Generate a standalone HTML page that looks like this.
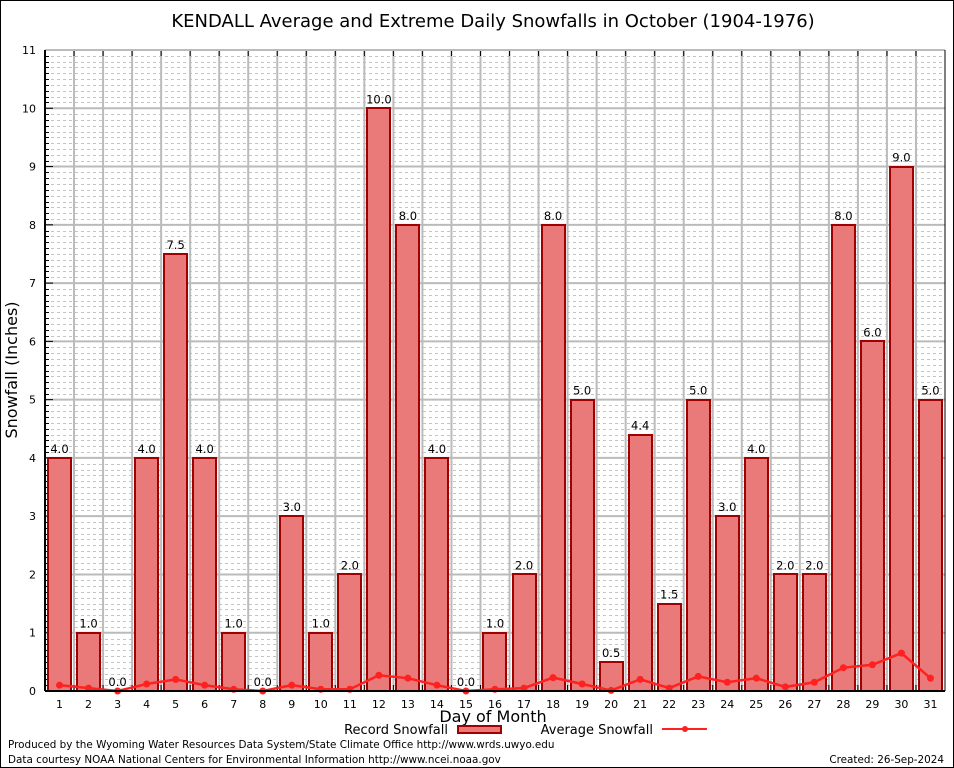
<!DOCTYPE html>
<html><head><meta charset="utf-8"><style>
html,body{margin:0;padding:0;background:#fff;width:954px;height:768px;overflow:hidden}
text{font-family:"DejaVu Sans","Liberation Sans",sans-serif}
</style></head><body>
<svg id="s" width="954" height="768" xmlns="http://www.w3.org/2000/svg">
<rect x="0.5" y="0.5" width="953" height="767" fill="#fff" stroke="#000"/>
<text x="493" y="27" font-size="18" text-anchor="middle" fill="#000">KENDALL Average and Extreme Daily Snowfalls in October (1904-1976)</text>
<g id="g"></g>
<text x="493" y="722" font-size="16" text-anchor="middle">Day of Month</text>
<text transform="translate(17,370) rotate(-90)" font-size="16" text-anchor="middle">Snowfall (Inches)</text>
<text x="448" y="734" font-size="13" text-anchor="end">Record Snowfall</text>
<rect x="458" y="726" width="43" height="7" fill="#ea7a7a" stroke="#a00000" stroke-width="2"/>
<text x="653" y="734" font-size="13" text-anchor="end">Average Snowfall</text>
<line x1="662" y1="729" x2="707" y2="729" stroke="#ff2020" stroke-width="2"/>
<circle cx="685" cy="729" r="3" fill="#ff2020"/>
<text x="8" y="748" font-size="10.4">Produced by the Wyoming Water Resources Data System/State Climate Office http://www.wrds.uwyo.edu</text>
<text x="8" y="763" font-size="10.4">Data courtesy NOAA National Centers for Environmental Information http://www.ncei.noaa.gov</text>
<text x="944" y="763" font-size="10.4" text-anchor="end">Created: 26-Sep-2024</text>
</svg>
<script>
var g=document.getElementById('g'),h='';
var L=45,R=945,T=50,B=691,u=(B-T)/11,w=(R-L)/31;
function Y(v){return B-v*u}
for(var i=0;i<110;i++){if(i%10==0)continue;var y=Math.round(Y(i/10))+0.5;h+='<line x1="'+L+'" x2="'+R+'" y1="'+y+'" y2="'+y+'" stroke="#c4c4c4" stroke-dasharray="3,3"/>';h+='<line x1="'+L+'" x2="'+(L+4)+'" y1="'+y+'" y2="'+y+'" stroke="#000"/>';}
for(var i=1;i<=11;i++){var y=Y(i);h+='<line x1="'+L+'" x2="'+R+'" y1="'+y+'" y2="'+y+'" stroke="#bbb" stroke-width="2"/>';h+='<line x1="'+L+'" x2="'+(L+8)+'" y1="'+y+'" y2="'+y+'" stroke="#000"/>';}
for(var i=0;i<=11;i++)h+='<text x="36" y="'+(Y(i)+4)+'" font-size="11" text-anchor="end" font-family="Liberation Serif">'+i+'</text>';
for(var d=1;d<31;d++){var x=L+d*w;h+='<line x1="'+x+'" x2="'+x+'" y1="'+T+'" y2="'+B+'" stroke="#bbb" stroke-width="2"/>';h+='<line x1="'+x+'" x2="'+x+'" y1="'+T+'" y2="'+(T+6)+'" stroke="#000"/><line x1="'+x+'" x2="'+x+'" y1="'+(B-6)+'" y2="'+B+'" stroke="#000"/>';}
var rec=[4,1,0,4,7.5,4,1,0,3,1,2,10,8,4,0,1,2,8,5,.5,4.4,1.5,5,3,4,2,2,8,6,9,5];
var av=[.1,.05,0,.12,.2,.1,.03,0,.1,.03,.03,.27,.22,.1,0,.03,.05,.23,.12,.01,.2,.05,.25,.15,.22,.07,.15,.4,.45,.65,.22];
for(var d=0;d<31;d++){var x=L+d*w,cx=x+w/2;
if(rec[d]>0){var rx=Math.round(x+3),ry=Math.round(Y(rec[d]));h+='<rect x="'+rx+'" y="'+ry+'" width="23" height="'+(B-ry)+'" fill="#ea7a7a" stroke="#a00000" stroke-width="2"/>';}
h+='<text x="'+cx+'" y="'+(Y(rec[d])-5)+'" font-size="11.5" text-anchor="middle">'+rec[d].toFixed(1)+'</text>';
h+='<text x="'+cx+'" y="708" font-size="11" text-anchor="middle" font-family="Liberation Serif">'+(d+1)+'</text>';}
var p='';for(var d=0;d<31;d++){p+=(d?'L':'M')+(L+d*w+w/2)+','+Y(av[d]);}
h+='<path d="'+p+'" fill="none" stroke="#ff2020" stroke-width="2.5"/>';
for(var d=0;d<31;d++)h+='<circle cx="'+(L+d*w+w/2)+'" cy="'+Y(av[d])+'" r="3.5" fill="#ff2020"/>';
h+='<line x1="'+L+'" x2="'+R+'" y1="'+T+'" y2="'+T+'" stroke="#bbb" stroke-width="2"/><line x1="'+R+'" x2="'+R+'" y1="'+T+'" y2="'+B+'" stroke="#000"/>';
h+='<line x1="'+L+'" x2="'+L+'" y1="'+T+'" y2="'+B+'" stroke="#000" stroke-width="2"/><line x1="'+L+'" x2="'+R+'" y1="'+B+'" y2="'+B+'" stroke="#000" stroke-width="2"/>';
g.innerHTML=h;
</script>
</body></html>
